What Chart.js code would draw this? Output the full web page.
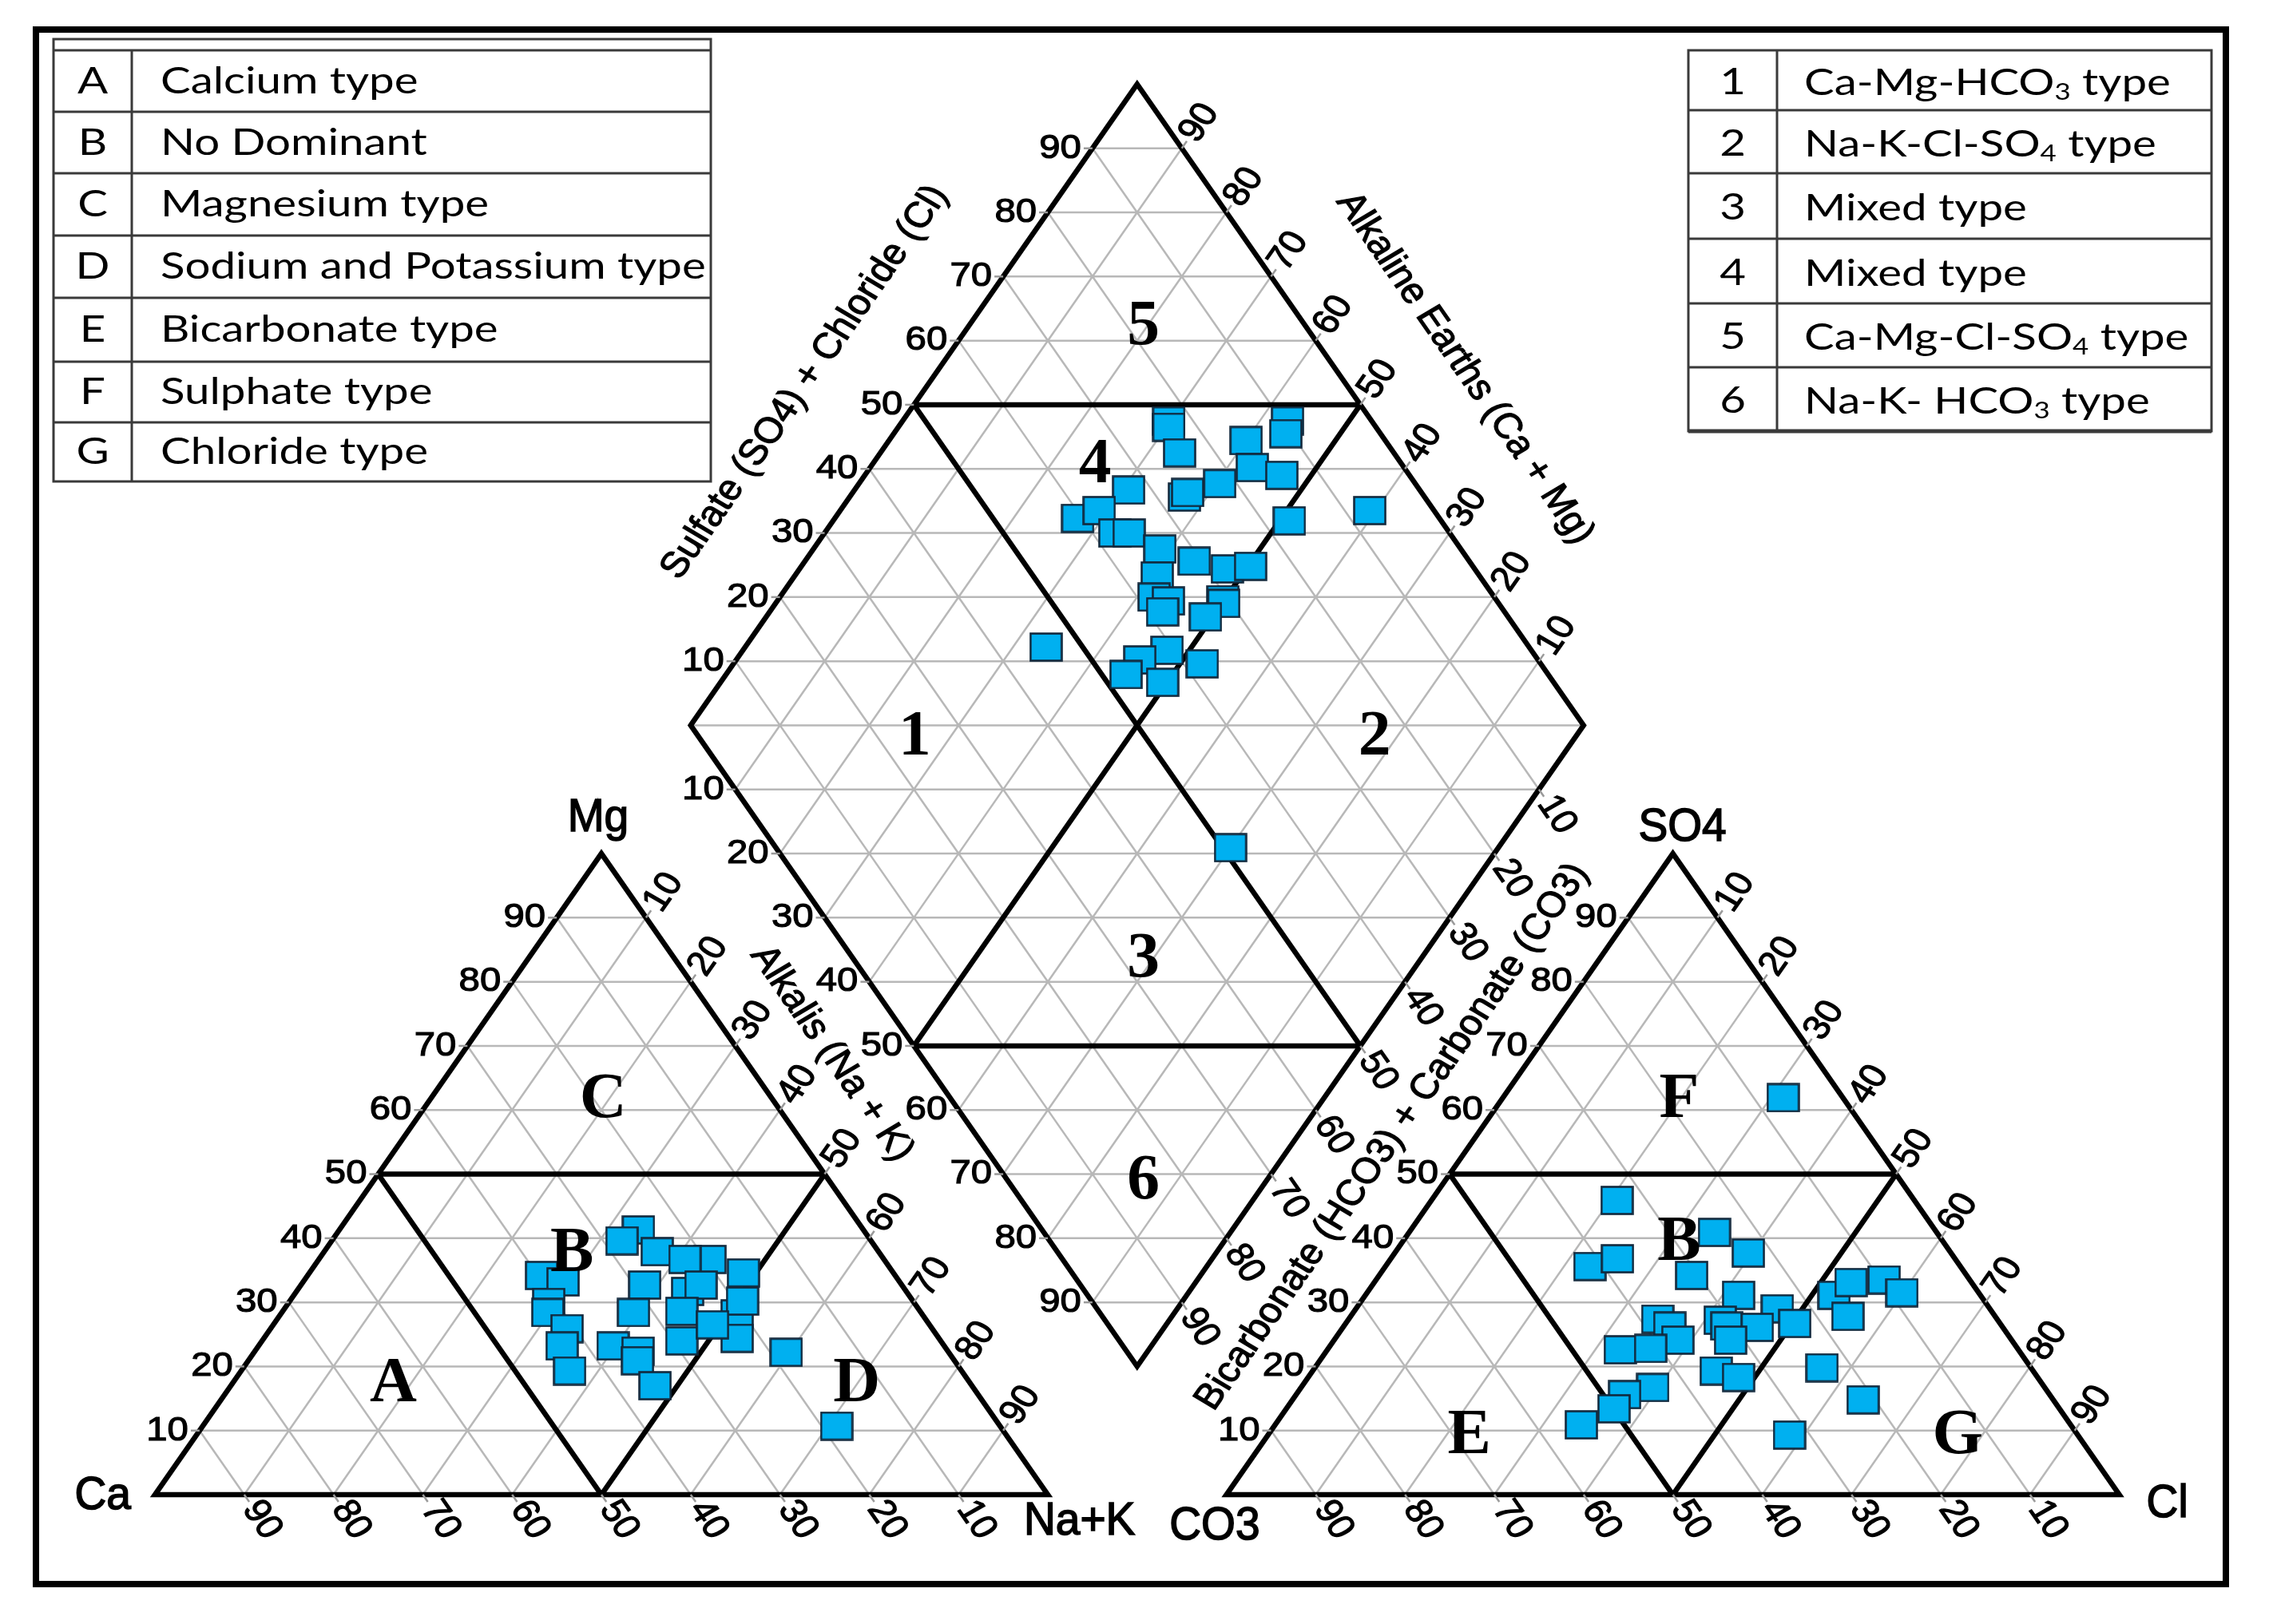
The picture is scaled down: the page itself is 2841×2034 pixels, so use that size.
<!DOCTYPE html>
<html>
<head>
<meta charset="utf-8">
<script src="https://cdn.jsdelivr.net/npm/chart.js@4.4.1/dist/chart.umd.min.js"></script>
<style>
  html, body { margin: 0; padding: 0; background: #fff; }
  #piper { display: block; }
</style>
</head>
<body>
<canvas id="piper" width="2841" height="2034"></canvas>
<script>
// tick values along every edge
const axisTicks = [10, 20, 30, 40, 50, 60, 70, 80, 90];

// cation triangle (% meq)
const cationMg  = [41.3, 39.6, 37.9, 36.7, 36.7, 34.6, 34.2, 33.2, 32.7, 31.7, 32.7, 30.0, 28.4, 28.4, 28.6, 28.2, 30.2, 25.9, 23.2, 23.2, 22.4, 20.9, 24.0, 24.4, 26.5, 19.3, 17.0, 22.2, 10.7];
const cationNaK = [33.5, 32.5, 37.3, 43.8, 41.0, 48.6, 26.2, 29.1, 38.5, 43.8, 44.8, 29.1, 29.8, 39.4, 44.7, 51.1, 50.7, 33.2, 34.0, 39.7, 42.9, 43.6, 47.0, 53.0, 49.2, 36.8, 47.5, 59.6, 71.0];

// anion triangle
const anionSO4 = [45.9, 35.6, 36.8, 40.9, 37.7, 34.2, 31.1, 29.0, 26.7, 31.1, 33.1, 33.5, 31.5, 27.8, 27.4, 26.3, 24.1, 27.2, 26.3, 26.1, 24.1, 22.6, 22.8, 19.3, 18.3, 19.8, 16.7, 15.6, 13.4, 10.9, 14.8, 9.3, 61.9];
const anionCl  = [20.8, 22.9, 25.4, 34.2, 39.6, 35.0, 41.8, 47.2, 50.3, 52.5, 53.4, 56.9, 59.9, 55.7, 34.6, 36.5, 38.5, 41.7, 42.9, 46.4, 44.4, 32.8, 36.1, 45.2, 48.2, 56.8, 39.4, 36.8, 36.7, 34.3, 63.9, 58.4, 31.4];

// diamond (Na+K vs SO4+Cl)
const diamondNaK   = [29.8, 30.3, 33.5, 40.0, 43.1, 43.9, 42.8, 46.7, 40.4, 37.5, 37.5, 30.7, 27.2, 29.0, 32.5, 34.1, 51.1, 38.8, 43.6, 47.9, 50.3, 59.3, 40.6, 41.9, 43.8, 44.0, 49.8, 50.2, 49.2, 33.7, 47.5, 45.2, 44.8, 49.5, 52.5, 70.0];
const diamondSO4Cl = [77.3, 76.8, 76.0, 84.4, 90.6, 89.4, 83.0, 85.7, 78.1, 73.1, 73.8, 67.4, 59.5, 62.5, 62.5, 64.1, 83.0, 66.3, 69.2, 72.3, 75.1, 92.8, 63.9, 61.9, 63.2, 61.7, 69.4, 69.2, 66.1, 45.9, 59.2, 55.4, 52.7, 56.2, 62.1, 50.9];

// legend tables
const legendLetters = ['A', 'B', 'C', 'D', 'E', 'F', 'G'];
const legendTypes = ['Calcium type', 'No Dominant', 'Magnesium type', 'Sodium and Potassium type',
  'Bicarbonate type', 'Sulphate type', 'Chloride type'];
const hydroNumbers = ['1', '2', '3', '4', '5', '6'];
const hydroTypes = ['Ca-Mg-HCO_3 type', 'Na-K-Cl-SO_4 type', 'Mixed type', 'Mixed type',
  'Ca-Mg-Cl-SO_4 type', 'Na-K- HCO_3 type'];

// ---- geometry (triangle side = 100, gap of 20 between triangles) ----
const GAP = 20;
const ANION_X = 100 + GAP;

function cationXY(mg, nak) { return { x: nak + mg / 2, y: mg }; }
function anionXY(so4, cl) { return { x: ANION_X + cl + so4 / 2, y: so4 }; }
function diamondXY(nak, so4cl) {
    return { x: ANION_X / 2 + (nak + so4cl) / 2, y: ANION_X + so4cl - nak };
}

// pixel mapping of the figure
const X_MIN = -17.35, X_MAX = 236.76;
const Y_MIN = -20.17, Y_MAX = 233.13;

function toSegments(lines) {
    const out = [];
    lines.forEach(pts => {
        pts.forEach(p => out.push({ x: p.x, y: p.y }));
        out.push({ x: pts[pts.length - 1].x, y: null });
    });
    return out;
}

const gridLines = [];
const heavyLines = [];
[cationXY, anionXY].forEach(tri => {
    axisTicks.forEach(t => {
        gridLines.push([tri(t, 0), tri(t, 100 - t)]);
        gridLines.push([tri(0, t), tri(100 - t, t)]);
        gridLines.push([tri(100 - t, 0), tri(0, 100 - t)]);
    });
    heavyLines.push([tri(0, 0), tri(100, 0), tri(0, 100), tri(0, 0), tri(100, 0)]);
    heavyLines.push([tri(50, 0), tri(50, 50)]);
    heavyLines.push([tri(0, 50), tri(50, 0)]);
    heavyLines.push([tri(0, 50), tri(50, 50)]);
});
axisTicks.forEach(t => {
    gridLines.push([diamondXY(t, 0), diamondXY(t, 100)]);
    gridLines.push([diamondXY(0, t), diamondXY(100, t)]);
});
for (let h = -90; h <= 90; h += 10) {
    if (h >= 0) gridLines.push([diamondXY(0, h), diamondXY(100 - h, 100)]);
    else gridLines.push([diamondXY(-h, 0), diamondXY(100, 100 + h)]);
}
heavyLines.push([diamondXY(0, 0), diamondXY(0, 100), diamondXY(100, 100), diamondXY(100, 0),
    diamondXY(0, 0), diamondXY(0, 100)]);
heavyLines.push([diamondXY(50, 0), diamondXY(50, 100)]);
heavyLines.push([diamondXY(0, 50), diamondXY(100, 50)]);
heavyLines.push([diamondXY(0, 50), diamondXY(50, 100)]);
heavyLines.push([diamondXY(50, 0), diamondXY(100, 50)]);

// numbers along the edges
const edgeLabels = [];
axisTicks.forEach(t => {
    edgeLabels.push({ at: cationXY(t, 0), dir: 'left', text: t });
    edgeLabels.push({ at: cationXY(0, t), dir: 'downRight', text: 100 - t });
    edgeLabels.push({ at: cationXY(100 - t, t), dir: 'upRight', text: t });
    edgeLabels.push({ at: anionXY(t, 0), dir: 'left', text: t });
    edgeLabels.push({ at: anionXY(0, t), dir: 'downRight', text: 100 - t });
    edgeLabels.push({ at: anionXY(100 - t, t), dir: 'upRight', text: t });
    edgeLabels.push({ at: diamondXY(0, t), dir: 'left', text: t });
    edgeLabels.push({ at: diamondXY(t, 0), dir: 'left', text: t });
    edgeLabels.push({ at: diamondXY(t, 100), dir: 'upRight', text: 100 - t });
    edgeLabels.push({ at: diamondXY(100, t), dir: 'downRight', text: 100 - t });
});

const axisTitles = [
    { text: 'Alkalis (Na + K)', x: 75.8, y: 68.8, dir: 'downRight' },
    { text: 'Sulfate (SO4) + Chloride (Cl)', x: 72.8, y: 173.5, dir: 'upRight' },
    { text: 'Alkaline Earths (Ca + Mg)', x: 146.7, y: 175.7, dir: 'downRight' },
    { text: 'Bicarbonate (HCO3) + Carbonate (CO3)', x: 138.6, y: 55.8, dir: 'upRight' }
];

const cornerLabels = [
    { text: 'Mg', at: cationXY(100, 0), dx: -4, dy: -44, align: 'center' },
    { text: 'Ca', at: cationXY(0, 0), dx: -30, dy: 2, align: 'right' },
    { text: 'Na+K', at: cationXY(0, 100), dx: -30, dy: 34, align: 'left' },
    { text: 'SO4', at: anionXY(100, 0), dx: 12, dy: -32, align: 'center' },
    { text: 'CO3', at: anionXY(0, 0), dx: 42, dy: 40, align: 'right' },
    { text: 'Cl', at: anionXY(0, 100), dx: 34, dy: 12, align: 'left' }
];

const regionLabels = [
    ['5', 110.7, 182], ['4', 105.3, 160.5], ['1', 85.1, 118], ['2', 136.6, 118],
    ['3', 110.7, 83.4], ['6', 110.7, 48.8],
    ['C', 50.2, 61.5], ['B', 46.7, 37.4], ['A', 26.7, 17.2], ['D', 78.6, 17.2],
    ['F', 170.7, 61.5], ['B', 170.7, 39.2], ['E', 147.2, 9.1], ['G', 201.9, 9.1]
];

// sample marker
const marker = document.createElement('canvas');
marker.width = 42;
marker.height = 37;
(function () {
    const g = marker.getContext('2d');
    g.fillStyle = '#00b0f0';
    g.fillRect(1.5, 1.5, 39, 34);
    g.strokeStyle = '#12283c';
    g.lineWidth = 2.6;
    g.strokeRect(1.5, 1.5, 39, 34);
})();

function drawText(ctx, txt, x, y, o) {
    ctx.save();
    ctx.translate(x, y);
    const sx = o.sx || 1;
    ctx.scale(sx, 1);
    if (o.angle) ctx.rotate(Math.atan2(sx * Math.sin(o.angle), Math.cos(o.angle)));
    ctx.font = o.font;
    ctx.fillStyle = o.color || '#000';
    ctx.textAlign = o.align || 'left';
    ctx.textBaseline = o.baseline || 'middle';
    ctx.fillText(txt, 0, 0);
    if (o.stroke) {
        ctx.strokeStyle = o.color || '#000';
        ctx.lineWidth = o.stroke;
        ctx.strokeText(txt, 0, 0);
    }
    ctx.restore();
}

// text with _x subscripts
function drawRich(ctx, txt, x, y, size, sx) {
    ctx.save();
    ctx.translate(x, y);
    ctx.scale(sx, 1);
    ctx.fillStyle = '#000';
    ctx.textBaseline = 'alphabetic';
    ctx.textAlign = 'left';
    let cx = 0;
    txt.split(/(_\w)/).forEach(part => {
        if (!part) return;
        if (part[0] === '_') {
            ctx.font = Math.round(size * 0.62) + 'px Lato';
            ctx.fillText(part[1], cx, size * 0.13);
            cx += ctx.measureText(part[1]).width;
        } else {
            ctx.font = size + 'px Lato';
            ctx.fillText(part, cx, 0);
            cx += ctx.measureText(part).width;
        }
    });
    ctx.restore();
}

const decor = {
    id: 'piperDecor',
    beforeDraw(chart) {
        const ctx = chart.ctx;
        ctx.save();
        ctx.fillStyle = '#fff';
        ctx.fillRect(0, 0, chart.width, chart.height);
        ctx.restore();
    },
    afterDatasetsDraw(chart) {
        const ctx = chart.ctx;
        const xs = chart.scales.x, ys = chart.scales.y;
        const px = p => [xs.getPixelForValue(p.x), ys.getPixelForValue(p.y)];
        const a = px({ x: 0, y: 0 }), b = px({ x: 50, y: 100 });
        const len = Math.hypot(b[0] - a[0], b[1] - a[1]);
        const ux = (b[0] - a[0]) / len, uy = (b[1] - a[1]) / len;
        const dirs = { left: [-1, 0], upRight: [ux, uy], downRight: [ux, -uy] };
        const angles = { left: 0, upRight: Math.atan2(uy, ux), downRight: Math.atan2(-uy, ux) };
        const TICK = 11, PAD = 3;

        // ticks
        ctx.save();
        ctx.strokeStyle = '#9a9a9a';
        ctx.lineWidth = 2.5;
        edgeLabels.forEach(l => {
            const p = px(l.at), d = dirs[l.dir];
            ctx.beginPath();
            ctx.moveTo(p[0], p[1]);
            ctx.lineTo(p[0] + d[0] * TICK, p[1] + d[1] * TICK);
            ctx.stroke();
        });
        ctx.restore();

        edgeLabels.forEach(l => {
            const p = px(l.at), d = dirs[l.dir];
            const off = TICK + PAD;
            drawText(ctx, String(l.text), p[0] + d[0] * off, p[1] + d[1] * off, {
                font: '43px "Liberation Sans"', sx: 1.1, stroke: 1.2,
                angle: angles[l.dir], align: l.dir === 'left' ? 'right' : 'left'
            });
        });

        axisTitles.forEach(t => {
            const p = px(t);
            drawText(ctx, t.text, p[0], p[1], {
                font: '45px "Liberation Sans"', sx: 1.08, stroke: 1.2,
                angle: angles[t.dir], align: 'center'
            });
        });

        cornerLabels.forEach(c => {
            const p = px(c.at);
            drawText(ctx, c.text, p[0] + c.dx, p[1] + c.dy, {
                font: '58px "Liberation Sans"', sx: 0.95, stroke: 1.6, align: c.align
            });
        });

        regionLabels.forEach(r => {
            const p = px({ x: r[1], y: r[2] });
            drawText(ctx, r[0], p[0], p[1], {
                font: 'bold 80px "Liberation Serif"', sx: 1.02, align: 'center'
            });
        });
    },
    afterDraw(chart) {
        const ctx = chart.ctx;
        ctx.save();
        // outer frame
        ctx.strokeStyle = '#000';
        ctx.lineWidth = 8;
        ctx.strokeRect(45, 37, 2742, 1947);

        // left legend table
        const lx = [67, 165, 890];
        const ly = [49, 63, 140, 217, 295, 373, 453, 529, 603];
        ctx.strokeStyle = '#3a3a3a';
        ctx.lineWidth = 3;
        ctx.strokeRect(lx[0], ly[0], lx[2] - lx[0], ly[8] - ly[0]);
        ly.slice(1, 8).forEach(y => {
            ctx.beginPath(); ctx.moveTo(lx[0], y); ctx.lineTo(lx[2], y); ctx.stroke();
        });
        ctx.beginPath(); ctx.moveTo(lx[1], ly[1]); ctx.lineTo(lx[1], ly[8]); ctx.stroke();
        legendLetters.forEach((l, i) => {
            const yc = (ly[i + 1] + ly[i + 2]) / 2;
            drawText(ctx, l, (lx[0] + lx[1]) / 2, yc, { font: '47px Lato', sx: 1.2, align: 'center' });
            drawText(ctx, legendTypes[i], 201, yc, { font: '47px Lato', sx: 1.2, align: 'left' });
        });

        // right legend table
        const rx = [2114, 2225, 2769];
        const ry = [63, 138, 217, 299, 380, 460, 540];
        ctx.strokeRect(rx[0], ry[0], rx[2] - rx[0], ry[6] - ry[0]);
        ry.slice(1, 6).forEach(y => {
            ctx.beginPath(); ctx.moveTo(rx[0], y); ctx.lineTo(rx[2], y); ctx.stroke();
        });
        ctx.lineWidth = 5;
        ctx.beginPath(); ctx.moveTo(rx[0], ry[6]); ctx.lineTo(rx[2], ry[6]); ctx.stroke();
        ctx.lineWidth = 3;
        ctx.beginPath(); ctx.moveTo(rx[1], ry[0]); ctx.lineTo(rx[1], ry[6]); ctx.stroke();
        hydroNumbers.forEach((n, i) => {
            const yc = (ry[i] + ry[i + 1]) / 2;
            drawText(ctx, n, (rx[0] + rx[1]) / 2, yc + 2, { font: '47px Lato', sx: 1.2, align: 'center' });
            drawRich(ctx, hydroTypes[i], 2259, yc + 18, 47, 1.2);
        });
        ctx.restore();
    }
};

const ctx = document.getElementById('piper').getContext('2d');

new Chart(ctx, {
    type: 'line',
    data: {
        datasets: [
            {
                label: 'Cations',
                data: cationMg.map((m, i) => cationXY(m, cationNaK[i])),
                showLine: false,
                pointStyle: marker,
                pointRadius: 15,
                order: 1
            },
            {
                label: 'Anions',
                data: anionSO4.map((s, i) => anionXY(s, anionCl[i])),
                showLine: false,
                pointStyle: marker,
                pointRadius: 15,
                order: 1
            },
            {
                label: 'Diamond',
                data: diamondNaK.map((n, i) => diamondXY(n, diamondSO4Cl[i])),
                showLine: false,
                pointStyle: marker,
                pointRadius: 15,
                order: 1
            },
            {
                label: 'Fields',
                data: toSegments(heavyLines),
                borderColor: '#000',
                borderWidth: 6.5,
                borderJoinStyle: 'miter',
                pointRadius: 0,
                spanGaps: false,
                order: 2
            },
            {
                label: 'Grid',
                data: toSegments(gridLines),
                borderColor: '#b8b8b8',
                borderWidth: 2.5,
                pointRadius: 0,
                spanGaps: false,
                order: 3
            }
        ]
    },
    options: {
        responsive: false,
        maintainAspectRatio: false,
        devicePixelRatio: 1,
        animation: false,
        events: [],
        layout: { padding: 0, autoPadding: false },
        elements: { line: { tension: 0 } },
        plugins: { legend: { display: false }, tooltip: { enabled: false } },
        scales: {
            x: { type: 'linear', min: X_MIN, max: X_MAX, display: false },
            y: { type: 'linear', min: Y_MIN, max: Y_MAX, display: false }
        }
    },
    plugins: [decor]
});
</script>
</body>
</html>
